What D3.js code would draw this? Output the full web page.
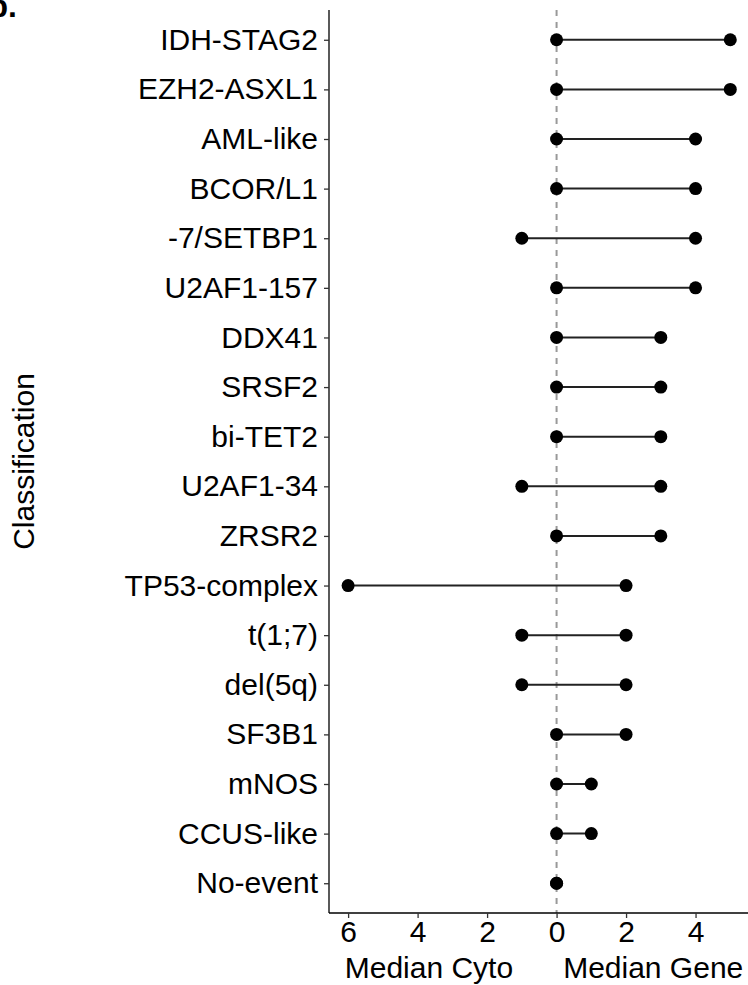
<!DOCTYPE html>
<html lang="en">
<head>
<meta charset="utf-8">
<title>Median Cyto vs Median Gene</title>
<script src="https://d3js.org/d3.v7.min.js"></script>
<style>
    body { margin: 0; background: white; }
    text { font-family: "Liberation Sans", Arial, sans-serif; fill: #000; }
</style>
</head>
<body>
<div id="chart"></div>
<script>
    // classes from top to bottom
    var classes = ["IDH-STAG2", "EZH2-ASXL1", "AML-like", "BCOR/L1", "-7/SETBP1", "U2AF1-157",
        "DDX41", "SRSF2", "bi-TET2", "U2AF1-34", "ZRSR2", "TP53-complex", "t(1;7)",
        "del(5q)", "SF3B1", "mNOS", "CCUS-like", "No-event"];
    // median number of cytogenetic events (drawn to the left)
    var medianCyto = [0, 0, 0, 0, 1, 0, 0, 0, 0, 1, 0, 6, 1, 1, 0, 0, 0, 0];
    // median number of gene mutations (drawn to the right)
    var medianGene = [5, 5, 4, 4, 4, 4, 3, 3, 3, 3, 3, 2, 2, 2, 2, 1, 1, 0];
    var xTicks = [-6, -4, -2, 0, 2, 4];

    var W = 748, H = 985;
    var margin = {top: 10, right: 0, bottom: 72, left: 329};
    var fs = "30px";

    var svg = d3.select("#chart").append("svg")
        .attr("width", W)
        .attr("height", H);

    var x = d3.scaleLinear()
        .domain([-6.55, 5.55])
        .range([margin.left, W + 1.4]);

    var y = d3.scalePoint()
        .domain(classes)
        .range([margin.top, H - margin.bottom])
        .padding(0.6);

    var rows = classes.map(function(c, i) {
        return {name: c, cyto: -medianCyto[i], gene: medianGene[i]};
    });

    // dashed zero line
    svg.append("line")
        .attr("x1", x(0)).attr("x2", x(0))
        .attr("y1", margin.top).attr("y2", H - margin.bottom)
        .attr("stroke", "#999")
        .attr("stroke-width", 2)
        .attr("stroke-dasharray", "6,6");

    // segments
    svg.selectAll(".seg")
        .data(rows)
        .enter().append("line")
        .attr("class", "seg")
        .attr("x1", function(d) { return x(d.cyto); })
        .attr("x2", function(d) { return x(d.gene); })
        .attr("y1", function(d) { return y(d.name); })
        .attr("y2", function(d) { return y(d.name); })
        .attr("stroke", "#222")
        .attr("stroke-width", 2);

    // points
    svg.selectAll(".pc")
        .data(rows)
        .enter().append("circle")
        .attr("cx", function(d) { return x(d.cyto); })
        .attr("cy", function(d) { return y(d.name); })
        .attr("r", 6.5)
        .attr("fill", "#000");
    svg.selectAll(".pg")
        .data(rows)
        .enter().append("circle")
        .attr("cx", function(d) { return x(d.gene); })
        .attr("cy", function(d) { return y(d.name); })
        .attr("r", 6.5)
        .attr("fill", "#000");

    // axes
    var yAxis = svg.append("g")
        .attr("transform", "translate(" + margin.left + ",0)")
        .call(d3.axisLeft(y).tickSize(5).tickPadding(6));
    var xAxis = svg.append("g")
        .attr("transform", "translate(0," + (H - margin.bottom) + ")")
        .call(d3.axisBottom(x).tickValues(xTicks).tickSize(5).tickPadding(3)
            .tickFormat(function(d) { return Math.abs(d); }));

    [yAxis, xAxis].forEach(function(a) {
        a.selectAll(".tick line").attr("stroke", "#333").attr("stroke-width", 1.3);
        a.selectAll(".tick text").style("font-size", fs).attr("fill", "#000");
    });
    yAxis.select(".domain").attr("stroke", "#000").attr("stroke-width", 1.3)
        .attr("d", "M0," + margin.top + "V" + (H - margin.bottom));
    xAxis.select(".domain").attr("stroke", "#000").attr("stroke-width", 1.3)
        .attr("d", "M" + margin.left + ",0H" + W);

    // axis titles
    svg.append("text")
        .attr("x", 544)
        .attr("y", 978)
        .attr("text-anchor", "middle")
        .style("white-space", "pre")
        .style("font-size", fs)
        .text("Median Cyto      Median Gene");

    svg.append("text")
        .attr("transform", "translate(34," + ((margin.top + H - margin.bottom) / 2) + ") rotate(-90)")
        .attr("text-anchor", "middle")
        .style("font-size", fs)
        .text("Classification");

    // panel tag (cut off at the corner, as in the figure)
    svg.append("text")
        .attr("x", 17)
        .attr("y", 17)
        .attr("text-anchor", "end")
        .style("font-size", "32px")
        .style("font-weight", "bold")
        .text("b.");
</script>
</body>
</html>
